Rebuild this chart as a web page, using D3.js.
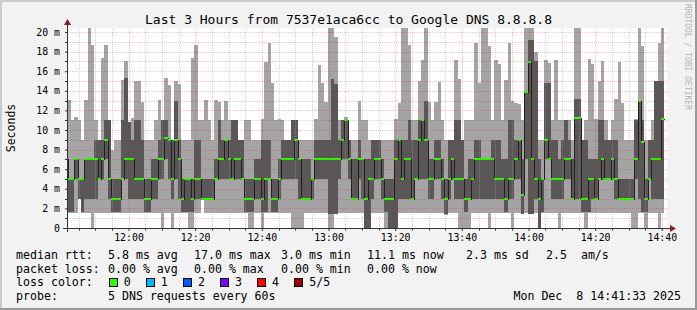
<!DOCTYPE html>
<html><head><meta charset="utf-8">
<script src="https://cdn.jsdelivr.net/npm/d3@7"></script>
<style>
html,body{margin:0;padding:0;background:#f2f2f2;}
svg{display:block;}
text{font-family:"DejaVu Sans Mono",monospace;white-space:pre;}
</style>
</head><body>
<svg id="chart" width="697" height="310"></svg>
<script>
// ---------------- data (one value per 60 s step, ms) ----------------
const stepStartTime = "2025-12-08T11:40:45";   // start of first (partially visible) step
const stepSeconds = 60;
const rangeStart = "2025-12-08T11:41:33";
const rangeEnd   = "2025-12-08T14:41:33";

// lowest ping (ping 1 of 5)
const lo = [1.5,1.5,1.5,1.5,3,1.5,1.5,1.5,0,1.5,1.5,
 1.5,1.5,1.5,1.5,1.5,1.5,1.5,1.5,1.5,1.5,
 1.5,1.5,1.5,1.5,1.5,1.5,1.5,1.5,0,1.5,
 1.5,0,1.5,1.5,1.5,1.5,0,0,1.5,1.5,
 3,1.5,1.5,1.5,1.5,1.5,1.5,1.5,1.5,1.5,
 1.5,1.5,1.5,1.5,0,0,1.5,1.5,0,1.5,
 1.5,1.5,1.5,1.5,1.5,1.5,1.5,0,0,0,
 0,1.5,1.5,1.5,1.5,1.5,1.5,1.5,0,0,
 1.4,1.5,1.5,1.5,1.5,1.5,1.5,1.5,1.5,0,
 0,1.5,1.5,1.5,1.5,0,0,0,0,1.5,
 1.5,1.5,1.5,1.5,1.5,1.5,1.5,1.5,1.5,1.5,
 1.5,1.5,1.5,1.3,1.5,1.5,1.5,0,0,0,
 0,1.5,1.5,1.5,1.5,1.5,0,1.5,1.5,1.5,
 1.5,1.5,1.5,0,1.5,1.5,1.4,1.5,1.4,1.4,
 1.5,0,1.5,1.5,1.5,1.5,1.5,0,1.5,1.5,
 1.5,1.5,1.5,1.5,1.5,0,1.5,1.5,1.5,1.5,
 1.5,1.5,1.5,1.5,1.5,1.5,1.5,1.5,1.5,0,
 0,1.5,1.5,0,1.5,1.5,1.5,0,1.5];
// ping 2 of 5
const q1 = [1.6,1.6,1.6,5,3,1.6,3,3,3,3,5,
 5,7,3,1.6,1.6,1.6,5,5,3,3,
 3,3,3,1.6,1.6,3,3,5,5,7,
 5,3,5,3,1.6,1.6,1.6,1.6,3,3,
 3,3,3,3,5,5,5,5,5,5,
 5,5,5,1.6,1.6,1.6,3,3,1.6,1.6,
 5,1.6,1.6,3,5,5,5,5,5,3,
 3,3,3,3,5,5,5,5,1.4,1.4,
 1.4,5,7,7,5,3,3,5,3,0,
 0,3,5,5,3,1.6,0,0,0,3,
 3,3,3,3,5,5,5,5,3,3,
 5,5,3,1.4,3,5,3,3,3,1.6,
 3,3,3,3,3,3,3,3,3,3,
 3,1.6,3,3,5,5,1.4,7,1.4,1.4,
 3,0,1.6,7,7,3,3,3,3,5,
 5,3,3,3,1.6,1.6,1.6,3,3,5,
 5,5,5,5,3,3,3,3,3,3,
 5,3,1.6,1.6,5,3,3,3,3];
// median (ping 3 of 5)
const med = [7,5,5,7,5,5,7,7,7,7,5,
 7,9,5,3,3,3,5,7,7,7,
 5,5,5,3,3,5,5,7,7,9.2,
 9,5,9,7,3,5,5,3,5,5,
 3,3,3,3,5,7,7,9,7,5,
 7,7,5,3,3,3,5,5,3,5,
 5,3,3,5,7,7,7,7,9,7,
 3,3,3,5,7,7,7,7,7,7,
 7,7,9,11,7,3,3,7,7,3,
 5,5,7,7,5,3,3,3,7,9,
 5,7,7,3,5,9,11,9,5,5,
 7,7,5,3,5,7,5,5,5,3,
 3,5,7,7,7,7,7,7,5,5,
 5,3,5,5,7,9,3.4,13.9,16.9,7,
 5,3,5,9,7,5,5,5,5,7,
 7,3,11.2,11.2,3,3,5,5,3,5,
 7,5,5,7,5,3,3,3,3,3,
 7,13,8.8,3,5,7,7,7,11.1];
// ping 4 of 5
const q3 = [7,5,5,7,5,5,7,7,7,9,9,
 9,11,11,5,5,5,11,15.3,10.8,9,
 11,11,9,5,5,7,7,9,11,11,
 9,9,13,9,5,5,5,5,9,9,
 5,5,5,5,7,11,9,9,9,11,
 11,9,9,5,5,5,7,7,9,9,
 9,5,5,7,9,9,9,11,11,7,
 7,7,7,5,9,9,9,9,9,15.2,
 14.7,9,11,11,9,7,7,9,7,7,
 7,9,9,9,7,5,5,5,9,9,
 9,9,11,9,9,11,11,13,7,7,
 9,9,7,5,9,9,11,11,9,5,
 7,7,9,9,7,7,7,9,9,9,
 7,7,11,11,9,9,7,13.9,19.2,19.2,
 17,7,5,14.8,14.8,9,9,7,9,11,
 9,7,13.2,13.2,9,9,7,7,7,11,
 11,9,9,9,9,5,5,5,5,5,
 11,13,11,5,9,9,15,15,15];
// highest ping (ping 5 of 5)
const hi = [14.8,13.1,11,11.3,11,9,13.1,20.5,18.7,11,9,
 17.3,18.7,11,8,9,9,15.1,17,10.8,11.2,
 15,15,12.9,9,9,9,11,13.1,11,15.3,
 14.6,9,15,14.7,9,9,9,17.3,18.7,11,
 11,13.1,11,9,13.1,12.9,11,13,11,11,
 11,9,9,11,11,9,9,9,11.1,16.9,
 18.9,14.8,11,11.1,11,9,9,11,11,9,
 9,9,9,9,11.1,16.6,14.8,12.9,20.5,20.5,
 19.5,11,11,11.3,9,9,9,13,11,11,
 9,9,9,9,9,9,9,9,11.1,12.8,
 20.5,20.5,18.7,11,11,15,17.1,20.5,12.9,11,
 12.9,14.9,11,9,9,9,17.1,15.2,9,11,
 11,11,18.9,14.8,20.5,20.5,18.6,11,17.1,16.7,
 11,15.1,18.9,13,12.8,12.7,11,20.5,20.5,20.5,
 18,9,9,17.1,16.8,11,17.1,11,11,11,
 11,9,20.5,20.5,9,11,17.2,16.7,11.1,15,
 17,11,9,11,13.2,16.9,12.8,9,9,9,
 11.1,20.5,18.6,9,9,11,15,18.9,20.5];

const yTickValues = [0,2,4,6,8,10,12,14,16,18,20];
const yTickLabels = ["0","2 m","4 m","6 m","8 m","10 m","12 m","14 m","16 m","18 m","20 m"];
const xTickLabels = ["12:00","12:20","12:40","13:00","13:20","13:40","14:00","14:20","14:40"];

const titleText = "Last 3 Hours from 7537e1aca6cc to Google DNS 8.8.8.8";
const yAxisTitle = "Seconds";
const legendRtt = ["median rtt:","5.8 ms avg","17.0 ms max","3.0 ms min","11.1 ms now","2.3 ms sd","2.5  am/s"];
const legendLoss = ["packet loss:","0.00 % avg","0.00 % max","0.00 % min","0.00 % now"];
const lossLabels = ["0","1","2","3","4","5/5"];
const lossColors = ["#26ff00","#00b8ff","#0059ff","#7e00ff","#ff0000","#a10000"];
const probeText = ["probe:","5 DNS requests every 60s"];
const dateText = "Mon Dec  8 14:41:33 2025";
const watermark = "RRDTOOL / TOBI OETIKER";

// ---------------- drawing ----------------
const W = 697, H = 310;
const PL = 67, PR = 667, PT = 28, PB = 228;
const parse = d3.isoParse;
const t0 = parse(rangeStart), t1 = parse(rangeEnd), s0 = parse(stepStartTime);
const x = d3.scaleTime().domain([t0, t1]).range([PL, PR]);
const y = d3.scaleLinear().domain([0, 20.408]).range([PB, PT]);
const stepX = i => x(new Date(s0.getTime() + i * stepSeconds * 1000));

const svg = d3.select("#chart");
svg.append("rect").attr("width", W).attr("height", H).attr("fill", "#f2f2f2");
// shade border
svg.append("rect").attr("x",0).attr("y",0).attr("width",W).attr("height",2).attr("fill","#cbcbcb");
svg.append("rect").attr("x",0).attr("y",0).attr("width",2).attr("height",H).attr("fill","#cbcbcb");
svg.append("rect").attr("x",0).attr("y",H-2).attr("width",W).attr("height",2).attr("fill","#999");
svg.append("rect").attr("x",W-2).attr("y",0).attr("width",2).attr("height",H).attr("fill","#999");

svg.append("rect").attr("x", PL).attr("y", PT).attr("width", PR - PL).attr("height", PB - PT).attr("fill", "#fff");

svg.append("clipPath").attr("id", "plotclip").append("rect")
  .attr("x", PL).attr("y", PT).attr("width", PR - PL).attr("height", PB - PT);

const idx = d3.range(med.length);
const plot = svg.append("g").attr("clip-path", "url(#plotclip)").attr("shape-rendering", "crispEdges");
const colX0 = i => Math.round(stepX(i));
const colW = i => Math.round(stepX(i + 1)) - Math.round(stepX(i));

// smoke: light band ping1..ping5, dark band ping2..ping4
plot.append("g").selectAll("rect").data(idx).join("rect")
  .attr("x", colX0).attr("width", colW)
  .attr("y", i => Math.round(y(hi[i])))
  .attr("height", i => Math.max(0, Math.round(y(lo[i])) - Math.round(y(hi[i]))))
  .attr("fill", "#a4a4a4");
plot.append("g").selectAll("rect").data(idx).join("rect")
  .attr("x", colX0).attr("width", colW)
  .attr("y", i => Math.round(y(q3[i])))
  .attr("height", i => Math.max(0, Math.round(y(q1[i])) - Math.round(y(q3[i]))))
  .attr("fill", "#585858");

// median step line
const pts = idx.map(i => [colX0(i), med[i]]);
pts.push([colX0(med.length), med[med.length - 1]]);
plot.append("path")
  .attr("d", d3.line().x(d => d[0] + 0.5).y(d => Math.round(y(d[1])) + 0.5).curve(d3.curveStepAfter)(pts))
  .attr("fill", "none").attr("stroke", "#202020").attr("stroke-width", 1);
plot.append("g").selectAll("rect").data(idx).join("rect")
  .attr("x", colX0).attr("width", colW)
  .attr("y", i => Math.round(y(med[i])) - 1)
  .attr("height", 2)
  .attr("fill", lossColors[0]);

// grid (dotted, drawn over data like rrdtool)
function vDots(px) { let d = ""; for (let yy = PT; yy < PB; yy += 2) d += `M${px},${yy}h1v1h-1Z`; return d; }
function hDots(py) { let d = ""; for (let xx = PL + 1; xx < PR; xx += 2) d += `M${xx},${py}h1v1h-1Z`; return d; }
const grid = svg.append("g").attr("shape-rendering", "crispEdges");
const minor5 = d3.timeMinute.every(5).range(t0, t1).filter(d => d.getMinutes() % 20 !== 0);
const major20 = d3.timeMinute.every(20).range(t0, t1);
grid.append("g").selectAll("path").data(minor5).join("path")
  .attr("d", d => vDots(Math.round(x(d))))
  .attr("fill", "#a0a0a0").attr("fill-opacity", 0.45);
grid.append("g").selectAll("path").data(d3.range(1, 21)).join("path")
  .attr("d", d => hDots(Math.round(y(d))))
  .attr("fill", "#ff0000").attr("fill-opacity", 0.26);
grid.append("g").selectAll("path").data(major20).join("path")
  .attr("d", d => vDots(Math.round(x(d))))
  .attr("fill", "#ff0000").attr("fill-opacity", 0.26);

// axes
const axisColor = "#333";
const xAxis = d3.axisBottom(x).tickValues(major20)
  .tickFormat((d, i) => xTickLabels[i]).tickSize(3).tickPadding(2.5);
const gx = svg.append("g").attr("transform", `translate(0,${PB})`).call(xAxis);
gx.select(".domain").remove();
gx.selectAll("line").attr("stroke", axisColor);
gx.selectAll("text").attr("font-size", "9.9px").attr("fill", "#000")
  .attr("font-family", "DejaVu Sans Mono");
svg.append("g").selectAll("line").data(minor5).join("line")
  .attr("x1", d => Math.round(x(d)) + 0.5).attr("x2", d => Math.round(x(d)) + 0.5)
  .attr("y1", PB + 0.5).attr("y2", PB + 2.5).attr("stroke", axisColor);

const yAxis = d3.axisLeft(y).tickValues(yTickValues)
  .tickFormat((d, i) => yTickLabels[i]).tickSize(2).tickPadding(5);
const gy = svg.append("g").attr("transform", `translate(${PL},0)`).call(yAxis);
gy.select(".domain").remove();
gy.selectAll("line").attr("stroke", axisColor);
gy.selectAll("text").attr("font-size", "9.9px").attr("fill", "#000")
  .attr("font-family", "DejaVu Sans Mono");
svg.append("g").selectAll("line").data(d3.range(1, 21, 2)).join("line")
  .attr("x1", PL - 2).attr("x2", PL)
  .attr("y1", d => Math.round(y(d)) + 0.5).attr("y2", d => Math.round(y(d)) + 0.5)
  .attr("stroke", axisColor);

// axis lines + arrows
svg.append("line").attr("x1", PL - 4).attr("x2", PR + 4).attr("y1", PB + 0.5).attr("y2", PB + 0.5)
  .attr("stroke", axisColor).attr("shape-rendering", "crispEdges");
svg.append("line").attr("x1", PL + 0.5).attr("x2", PL + 0.5).attr("y1", PB + 4).attr("y2", PT - 4)
  .attr("stroke", axisColor).attr("shape-rendering", "crispEdges");
svg.append("path").attr("d", `M${PR+3},${PB-3} L${PR+9},${PB+0.5} L${PR+3},${PB+4} Z`).attr("fill", "#7f1f1f");
svg.append("path").attr("d", `M${PL-3},${PT-3} L${PL+0.5},${PT-9} L${PL+4},${PT-3} Z`).attr("fill", "#7f1f1f");

// title
svg.append("text").attr("x", 348.5).attr("y", 23.5).attr("text-anchor", "middle")
  .attr("font-size", "13px").attr("fill", "#000").text(titleText);
// y title
svg.append("text").attr("transform", "translate(15,128) rotate(-90)").attr("text-anchor", "middle")
  .attr("font-size", "11.5px").attr("fill", "#000").text(yAxisTitle);
// watermark
svg.append("text").attr("transform", "translate(685,4) rotate(90)").attr("text-anchor", "start")
  .attr("font-size", "8px").attr("fill", "#b4b4b4").text(watermark);

// legend
const lf = "11.6px";
const row = [258.5, 272.5, 286.3, 300.3];
const colX = [16, 108, 194, 281, 367, 466, 546];
const lg = svg.append("g").attr("font-size", lf).attr("fill", "#000");
const addText = (s, xx, yy, anchor) => lg.append("text").attr("x", xx).attr("y", yy)
  .attr("xml:space", "preserve").attr("text-anchor", anchor || "start").text(s);
legendRtt.forEach((s, i) => addText(s, colX[i], row[0]));
legendLoss.forEach((s, i) => addText(s, colX[i], row[1]));
addText("loss color:", 16, row[2]);
lossLabels.forEach((s, i) => {
  const bx = 108.5 + i * 37.1;
  lg.append("rect").attr("x", Math.round(bx) + 0.5).attr("y", 278.5).attr("width", 8).attr("height", 8)
    .attr("fill", lossColors[i]).attr("stroke", "#000").attr("stroke-width", 1);
  addText(s, bx + 15.2, row[2]);
});
addText(probeText[0], 16, row[3]);
addText(probeText[1], 108, row[3]);
addText(dateText, 681, row[3], "end");
</script>
</body></html>
